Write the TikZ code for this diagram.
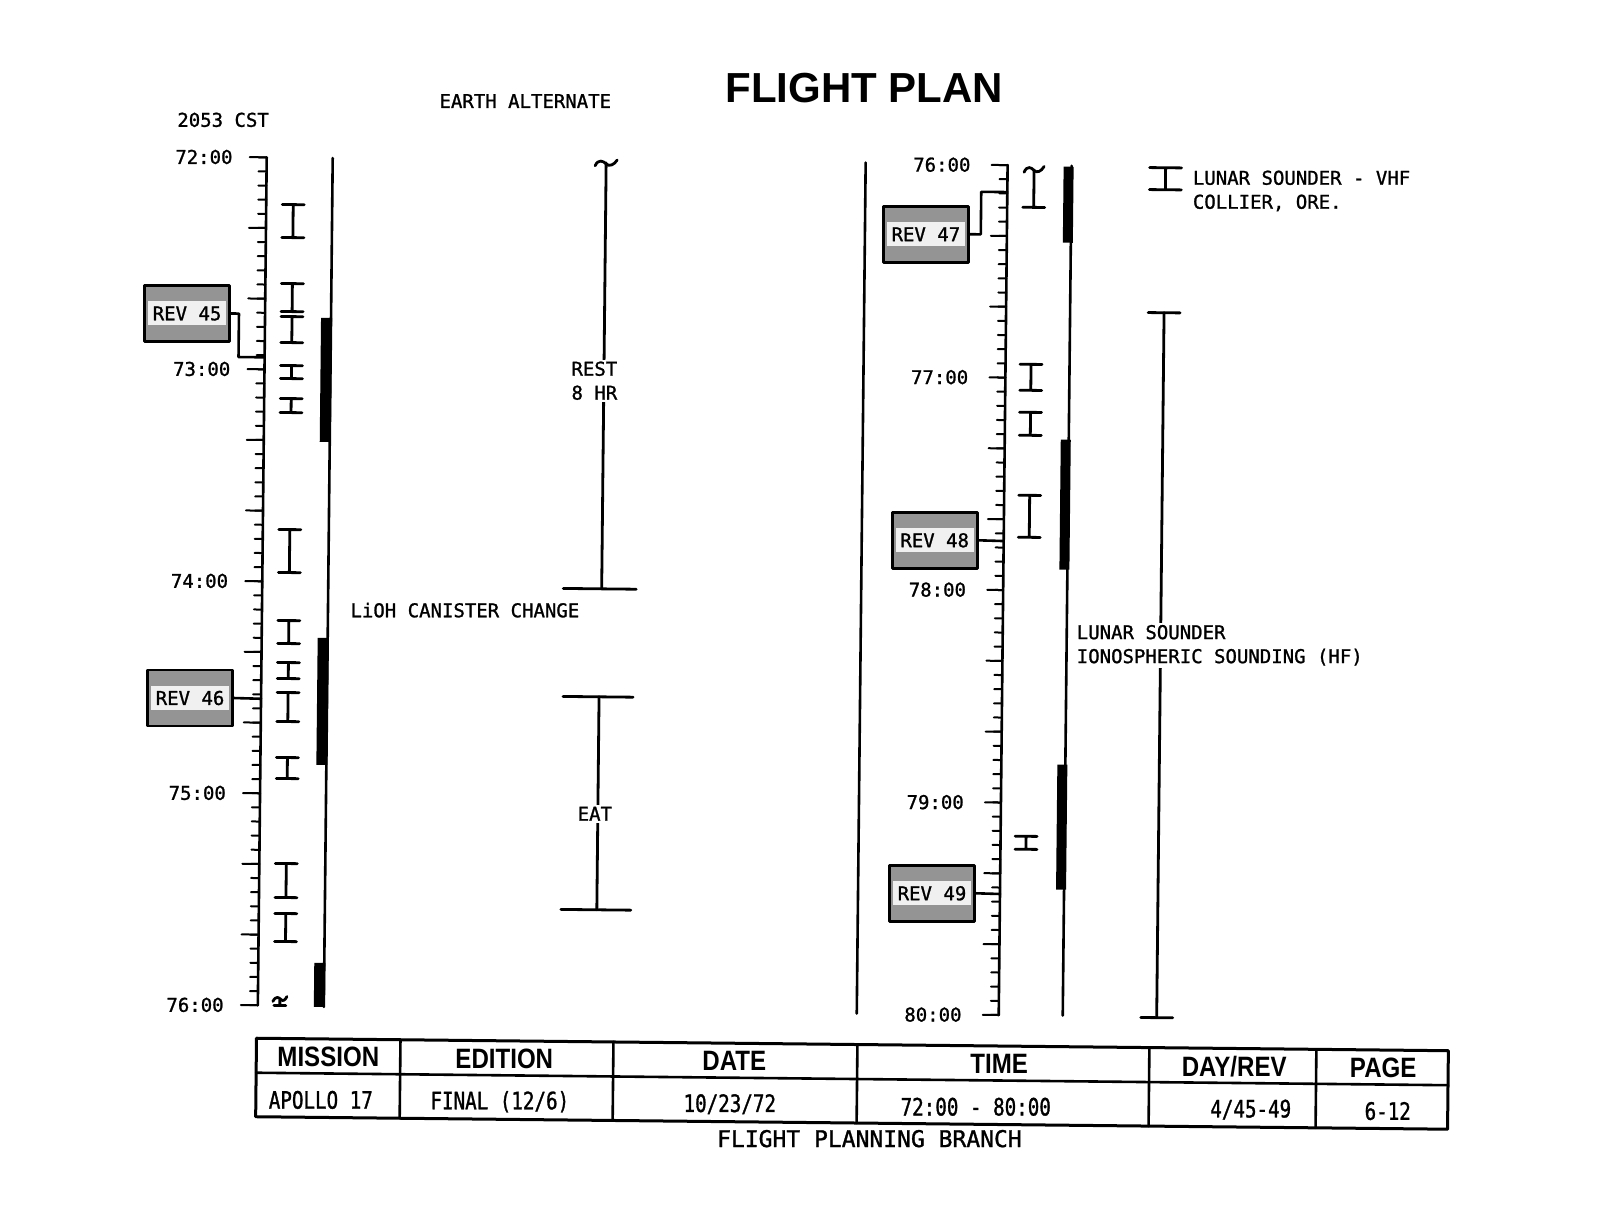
\documentclass[tikz,border=0pt]{standalone}
\usepackage{fontspec}
\newfontfamily\planfont[FakeBold=1.2]{DejaVu Sans Mono}
\newfontfamily\cellfont[FakeStretch=0.8,FakeBold=1.2]{DejaVu Sans Mono}
\newfontfamily\headfont[FakeStretch=0.86]{Liberation Sans Bold}
\newfontfamily\titlefont{Liberation Sans Bold}
\tikzset{
  revbox/.style={draw,line width=2.8pt,fill=black!42,minimum width=85pt,minimum height=56pt,inner sep=0pt},
  revtxt/.style={fill=black!6,inner sep=0pt,minimum width=78pt,minimum height=24pt},
  ibar/.style={line width=2.8pt},
  rule/.style={line width=2.6pt},
  tick/.style={line width=2pt},
  hour/.style={anchor=east,inner sep=0pt},
  gap/.style={fill=white,inner sep=2pt},
  hdr/.style={font=\headfont\fontsize{28}{30}\selectfont},
  cell/.style={font=\cellfont\fontsize{24}{26}\selectfont},
}
\begin{document}
\begin{tikzpicture}[x=1pt,y=-1pt,line join=round,line cap=round,font=\planfont\fontsize{19}{24}\selectfont]
	\useasboundingbox (0,0) rectangle (1615,1216);
	\begin{scope}[rotate around={-0.6:(808,608)}]
	% headings
	\node[font=\titlefont\fontsize{42}{46}\selectfont] (title) at (859,87) {FLIGHT PLAN};
	\node (earth) at (520,104) {EARTH ALTERNATE};
	\node (cst) at (218,126) {2053 CST};
	% left time scale 72:00 - 76:00
	\coordinate (la) at (262,163);
	\coordinate (lb) at (262,1011);
	\draw[rule] (la)--(lb);
	\foreach \k in {0,...,60} \draw[tick] (262,{163+\k*212/15}) -- ++(-8,0);
	\foreach \k in {0,5,...,60} \draw[tick] (262,{163+\k*212/15}) -- ++(-17,0);
	\foreach \h [count=\i from 0] in {72,...,76} \node[hour] (lh\h) at (228,{163+\i*212}) {\h:00};
	\draw[rule] (328,163)--(328,1012);
	\fill (318,323) rectangle (329,447);
	\fill (318,643) rectangle (329,770);
	\fill (318,968) rectangle (329,1012);
	\foreach \y/\z in {210/243,289/317,322/348,371/384,404/418,535/578,626/649,668/684,698/727,763/784,869/903,919/947}
		\draw[ibar] (278,\y)--(300,\y) (289,\y)--(289,\z) (278,\z)--(300,\z);
	\draw[ibar] (277,1007) .. controls (280,1001) and (283,1003) .. (285,1005) .. controls (287,1007) and (289,1006) .. (291,1002);
	\draw[ibar] (284,1005)--(284,1011) (278,1011)--(290,1011);
	\node[revbox] (rev45) at (184,320) {};
	\node[revtxt] (rev45t) at (rev45) {REV 45};
	\coordinate (r45) at (262,363);
	\draw[rule] (rev45.east) -- ++(8,0) |- (r45);
	\node[revbox] (rev46) at (191,704.5) {};
	\node[revtxt] (rev46t) at (rev46) {REV 46};
	\coordinate (r46) at (262,704.5);
	\draw[rule] (rev46.east)--(r46);
	% rest and eat
	\coordinate (restTop) at (601.5,165);
	\coordinate (restBot) at (601.5,591);
	\draw[ibar] (restTop)--(restBot);
	\draw[ibar,shift={(601.5,165)}] (-11,3) .. controls (-8,-4) and (-3,-2) .. (0,1) .. controls (3,4) and (8,2) .. (11,-3);
	\draw[ibar] (563,591)--(636,591);
	\node[gap,align=center] (rest) at (592,383) {REST\\8 HR};
	\node[anchor=west] (lioh) at (347,615) {LiOH CANISTER CHANGE};
	\coordinate (eatTop) at (600,699);
	\coordinate (eatBot) at (600,912);
	\draw[ibar] (eatTop)--(eatBot);
	\draw[ibar] (564,699)--(634,699) (564,912)--(634,912);
	\node[gap] (eat) at (597,816) {EAT};
	% right time scale 76:00 - 80:00
	\draw[rule] (861,162)--(861,1013);
	\coordinate (ra) at (1003,163);
	\coordinate (rb) at (1003,1013);
	\draw[rule] (ra)--(rb);
	\foreach \k in {0,...,60} \draw[tick] (1003,{163+\k*212.5/15}) -- ++(-8,0);
	\foreach \k in {0,5,...,60} \draw[tick] (1003,{163+\k*212.5/15}) -- ++(-16,0);
	\foreach \h [count=\i from 0] in {76,...,80} \node[hour] (rh\h) at (966,{163+\i*212.5}) {\h:00};
	\draw[rule] (1067,163)--(1067,1013);
	\fill (1059,164) rectangle (1069,240);
	\fill (1059,437) rectangle (1069,567);
	\fill (1059,762) rectangle (1069,887);
	\draw[ibar,shift={(1029.5,167)}] (-10,3) .. controls (-7,-4) and (-3,-2) .. (0,1) .. controls (3,4) and (7,2) .. (10,-3);
	\draw[ibar] (1029.5,168)--(1029.5,205) (1018.5,205)--(1040.5,205);
	\foreach \y/\z in {362/388,410/433,493/535,834/847}
		\draw[ibar] (1017.5,\y)--(1039.5,\y) (1028.5,\y)--(1028.5,\z) (1017.5,\z)--(1039.5,\z);
	\node[revbox] (rev47) at (922,233) {};
	\node[revtxt] (rev47t) at (rev47) {REV 47};
	\coordinate (r47) at (1003,190);
	\draw[rule] (rev47.east) -- ++(11,0) |- (r47);
	\node[revbox] (rev48) at (934,539) {};
	\node[revtxt] (rev48t) at (rev48) {REV 48};
	\coordinate (r48) at (1003,539);
	\draw[rule] (rev48.east)--(r48);
	\node[revbox] (rev49) at (935,892) {};
	\node[revtxt] (rev49t) at (rev49) {REV 49};
	\coordinate (r49) at (1003,892);
	\draw[rule] (rev49.east)--(r49);
	% lunar sounder
	\draw[ibar] (1145,164)--(1177,164) (1161,164)--(1161,186) (1145,186)--(1177,186);
	\node[anchor=west,align=left] (vhf) at (1185,187) {LUNAR SOUNDER - VHF\\COLLIER, ORE.};
	\coordinate (lsTop) at (1161,309);
	\coordinate (lsBot) at (1161,1014);
	\draw[ibar] (lsTop)--(lsBot);
	\draw[ibar] (1145,309)--(1177,309) (1145,1014)--(1177,1014);
	\node[gap,anchor=west,align=left] (hf) at (1075,642.5) {LUNAR SOUNDER\\IONOSPHERIC SOUNDING (HF)};
	% title block
	\draw[line width=3pt] (261,1044) rectangle (1453,1122.5);
	\draw[line width=2.6pt] (261,1078.5)--(1453,1078.5);
	\foreach \x in {405,618,862,1154,1321} \draw[line width=2.6pt] (\x,1044)--(\x,1122.5);
	\foreach \x/\t [count=\i] in {333/MISSION,509/EDITION,739/DATE,1004/TIME,1239/{DAY/REV},1388/PAGE}
		\node[hdr] (hd\i) at (\x,1062) {\t};
	\foreach \x/\t [count=\i] in {326/{APOLLO 17},505/{FINAL (12/6)},735/{10/23/72},981/{72:00 - 80:00},1256/{4/45-49},1393/{6-12}}
		\node[cell] (cl\i) at (\x,1105) {\t};
	\node[font=\planfont\fontsize{23}{26}\selectfont] (fpb) at (875,1138) {FLIGHT PLANNING BRANCH};
	\end{scope}
\end{tikzpicture}
\end{document}
